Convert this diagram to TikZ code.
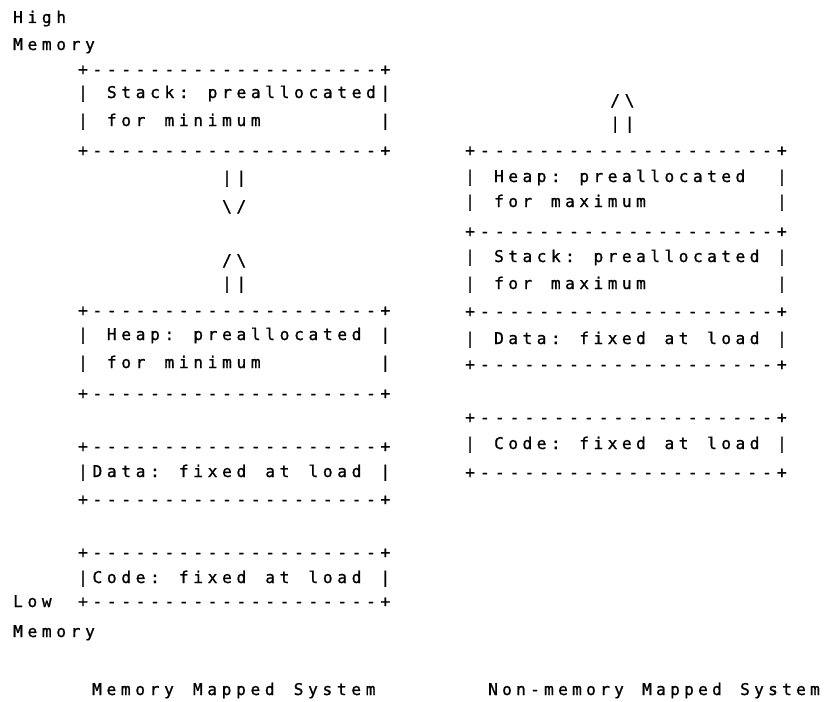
\documentclass[tikz,border=0pt]{standalone}
\usepackage{fontspec}
\usepackage{tikz}
\newfontfamily\typefont[FakeBold=1]{DejaVu Sans Mono}

% one typed character per fixed cell, as on the printed page
\newlength\cellw
\setlength\cellw{14.4pt}
\ExplSyntaxOn
\NewDocumentCommand\asc{O{14.4pt}m}
  {
    \setlength\cellw{#1}
    \str_map_inline:nn {#2} { \makebox[\cellw]{##1} }
  }
\ExplSyntaxOff
\newcommand\bslash{\makebox[\cellw]{\textbackslash}}

\begin{document}
\begin{tikzpicture}[x=1pt, y=-1pt,
    ascii/.style={anchor=base west, inner sep=0pt, outer sep=0pt,
      font=\typefont\fontsize{16.2}{18}\selectfont}]
    \useasboundingbox (0,0) rectangle (834,701);

    % Memory mapped system (left column)
    \node[ascii] (high) at (10.8,23) {\asc{High}};
    \node[ascii] (himem) at (10.8,50) {\asc{Memory}};

    % Stack box
    \node[ascii] (stkTop) at (75.8,75) {\asc{+--------------------+}};
    \node[ascii] (stkLa) at (75.8,98) {\asc{|}};
    \node[ascii] (stkA) at (104.6,98) {\asc{Stack: preallocated}};
    \node[ascii] (stkRa) at (378.2,98) {\asc{|}};
    \node[ascii] (stkLb) at (75.8,126) {\asc{|}};
    \node[ascii] (stkB) at (104.6,126) {\asc{for minimum}};
    \node[ascii] (stkRb) at (378.2,126) {\asc{|}};
    \node[ascii] (stkBot) at (75.8,156) {\asc{+--------------------+}};

    % Stack grows down, heap grows up
    \node[ascii] (downA) at (219.8,183) {\asc{||}};
    \node[ascii] (downB) at (219.8,212) {\bslash\asc{/}};
    \node[ascii] (upA) at (219.8,266) {\asc{/}\bslash};
    \node[ascii] (upB) at (219.8,289) {\asc{||}};

    % Heap box
    \node[ascii] (hpTop) at (75.8,316) {\asc{+--------------------+}};
    \node[ascii] (hpLa) at (75.8,340) {\asc{|}};
    \node[ascii] (hpA) at (104.6,340) {\asc{Heap: preallocated}};
    \node[ascii] (hpRa) at (378.2,340) {\asc{|}};
    \node[ascii] (hpLb) at (75.8,368) {\asc{|}};
    \node[ascii] (hpB) at (104.6,368) {\asc{for minimum}};
    \node[ascii] (hpRb) at (378.2,368) {\asc{|}};
    \node[ascii] (hpBot) at (75.8,399) {\asc{+--------------------+}};

    % Data box
    \node[ascii] (dtTop) at (75.8,452) {\asc{+--------------------+}};
    \node[ascii] (dtL) at (75.8,477) {\asc{|}};
    \node[ascii] (dt) at (90.2,477) {\asc{Data: fixed at load}};
    \node[ascii] (dtR) at (378.2,477) {\asc{|}};
    \node[ascii] (dtBot) at (75.8,505) {\asc{+--------------------+}};

    % Code box
    \node[ascii] (cdTop) at (75.8,558) {\asc{+--------------------+}};
    \node[ascii] (cdL) at (75.8,583) {\asc{|}};
    \node[ascii] (cd) at (90.2,583) {\asc{Code: fixed at load}};
    \node[ascii] (cdR) at (378.2,583) {\asc{|}};
    \node[ascii] (low) at (10.8,607) {\asc{Low}};
    \node[ascii] (cdBot) at (75.8,607) {\asc{+--------------------+}};
    \node[ascii] (lomem) at (10.8,637) {\asc{Memory}};

    \node[ascii] (mapped) at (89.8,695) {\asc{Memory Mapped System}};

    % Non-memory mapped system (right column)
    \node[ascii] (nmUpA) at (608,106) {\asc{/}\bslash};
    \node[ascii] (nmUpB) at (608,129) {\asc{||}};

    % Heap box
    \node[ascii] (nhpTop) at (462.6,156) {\asc[14.85pt]{+--------------------+}};
    \node[ascii] (nhpLa) at (462.6,182) {\asc[14.85pt]{|}};
    \node[ascii] (nhpA) at (491.9,182) {\asc[14.2pt]{Heap: preallocated}};
    \node[ascii] (nhpRa) at (774.5,182) {\asc[14.85pt]{|}};
    \node[ascii] (nhpLb) at (462.6,207) {\asc[14.85pt]{|}};
    \node[ascii] (nhpB) at (491.9,207) {\asc[14.2pt]{for maximum}};
    \node[ascii] (nhpRb) at (774.5,207) {\asc[14.85pt]{|}};
    \node[ascii] (nhpBot) at (462.6,237) {\asc[14.85pt]{+--------------------+}};

    % Stack box
    \node[ascii] (nstkLa) at (462.6,262) {\asc[14.85pt]{|}};
    \node[ascii] (nstkA) at (491.9,262) {\asc[14.2pt]{Stack: preallocated}};
    \node[ascii] (nstkRa) at (774.5,262) {\asc[14.85pt]{|}};
    \node[ascii] (nstkLb) at (462.6,289) {\asc[14.85pt]{|}};
    \node[ascii] (nstkB) at (491.9,289) {\asc[14.2pt]{for maximum}};
    \node[ascii] (nstkRb) at (774.5,289) {\asc[14.85pt]{|}};
    \node[ascii] (nstkBot) at (462.6,317) {\asc[14.85pt]{+--------------------+}};

    % Data box
    \node[ascii] (ndtL) at (462.6,344) {\asc[14.85pt]{|}};
    \node[ascii] (ndt) at (491.9,344) {\asc[14.2pt]{Data: fixed at load}};
    \node[ascii] (ndtR) at (774.5,344) {\asc[14.85pt]{|}};
    \node[ascii] (ndtBot) at (462.6,370) {\asc[14.85pt]{+--------------------+}};

    % Code box
    \node[ascii] (ncdTop) at (462.6,423) {\asc[14.85pt]{+--------------------+}};
    \node[ascii] (ncdL) at (462.6,449) {\asc[14.85pt]{|}};
    \node[ascii] (ncd) at (491.9,449) {\asc[14.2pt]{Code: fixed at load}};
    \node[ascii] (ncdR) at (774.5,449) {\asc[14.85pt]{|}};
    \node[ascii] (ncdBot) at (462.6,478) {\asc[14.85pt]{+--------------------+}};

    \node[ascii] (nonmapped) at (486,695) {\asc[14pt]{Non-memory Mapped System}};
\end{tikzpicture}
\end{document}
